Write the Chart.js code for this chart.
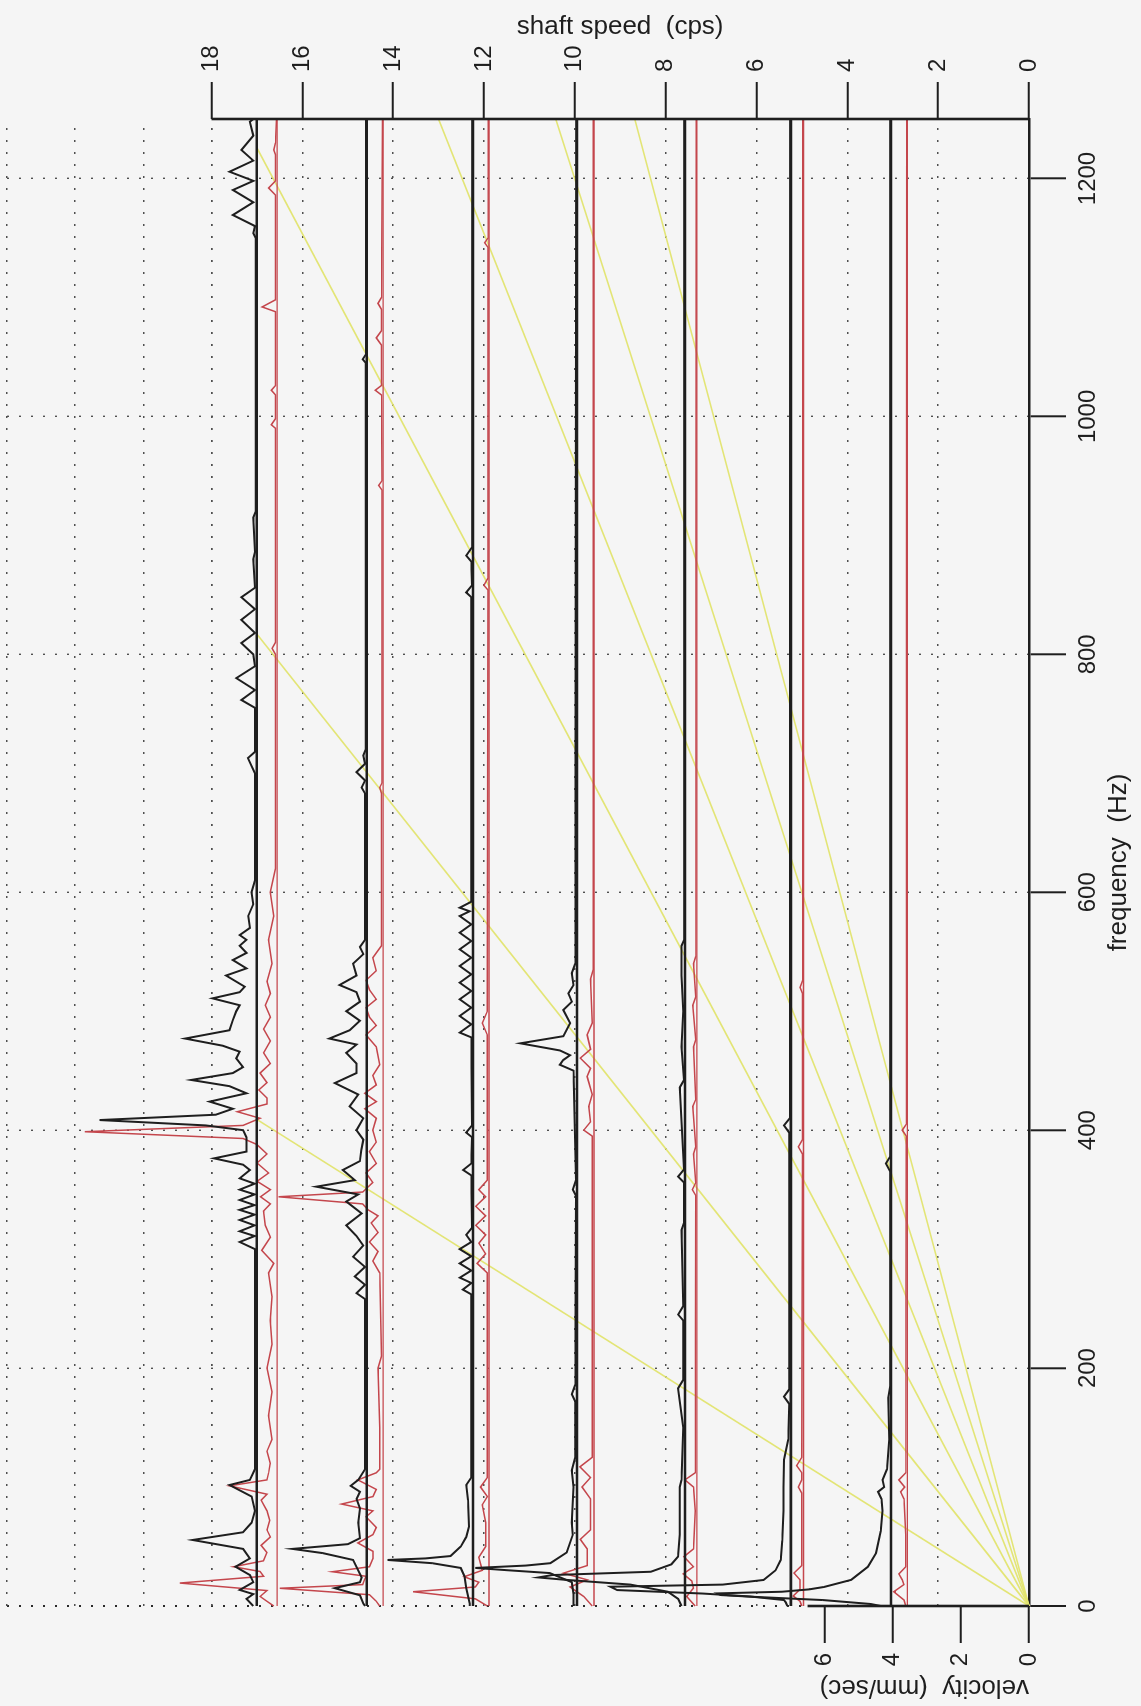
<!DOCTYPE html>
<html><head><meta charset="utf-8">
<script src="https://cdn.jsdelivr.net/npm/chart.js@4.4.1/dist/chart.umd.min.js"></script>
<style>
html,body{margin:0;padding:0;background:#f5f5f5;overflow:hidden;width:1141px;height:1706px;}
#wrap{position:absolute;left:0;top:0;width:1706px;height:1141px;transform-origin:0 0;transform:translate(0,1706px) rotate(-90deg);}
</style></head><body>
<div id="wrap"><canvas id="c" width="1706" height="1141"></canvas></div>
<script>
// ---------------- data ----------------
const freqTicks = [0,200,400,600,800,1000,1200];
const shaftTicks = [0,2,4,6,8,10,12,14,16,18];
const velTicks = [0,2,4,6,8,10,12,14,16,18,20,22,24,26,28,30];
const velLabelled = [0,2,4,6];
// baseline offsets (mm/sec) of each spectrum
const blackOffsets = [4.05, 6.99, 10.10, 13.27, 16.32, 19.44, 22.67];
const redOffsets   = [3.57, 6.62, 9.75, 12.77, 15.85, 18.96, 22.07];
// order lines: end points [frequency Hz, shaft speed cps]
const orderLineEnds = [[409,17.0],[817,17.0],[1226,17.0],[1250,13.0],[1250,10.42],[1250,8.68]];
// spectra: [frequency Hz, velocity amplitude mm/sec]
const blackSpec1 = [[0,0.3],[1.7,0.6],[5,2.0],[7.8,4.1],[9.2,5.0],[10.6,5.1],[12,3.2],[14,2.4],[16,1.97],[22,1.17],[33,0.68],[44.5,0.44],[63,0.3],[80,0.25],[90,0.28],[96,0.38],[100,0.2],[106,0.25],[115,0.12],[140,0.05],[175,0.08],[185,0.02],[365,0.02],[372,0.15],[378,0.02],[1250,0.02]];
const blackSpec2 = [[0,0.1],[3,0.15],[5,0.2],[8,1.2],[10.5,2.6],[13.4,5.1],[16.2,5.3],[18,2.0],[21.9,0.8],[30,0.45],[38.7,0.3],[55,0.25],[80,0.22],[100,0.22],[123,0.2],[140,0.08],[170,0.05],[176,0.2],[182,0.05],[398,0.05],[404,0.2],[410,0.03],[1250,0.02]];
const blackSpec3 = [[0,0.1],[6,0.2],[12,0.5],[18,1.6],[22,3.5],[24,4.3],[26,3.9],[28.8,1.0],[35,0.4],[41.5,0.2],[60,0.15],[100,0.15],[106,0.1],[150,0.05],[183,0.2],[190,0.05],[240,0.05],[245,0.2],[252,0.05],[316,0.1],[322,0.03],[356,0.03],[361,0.2],[367,0.03],[436,0.15],[442,0.03],[470,0.1],[500,0.05],[530,0.1],[555,0.1],[560,0.02],[1250,0.02]];
const blackSpec4 = [[0,0.1],[10,0.1],[20,0.15],[27.7,0.8],[30,2.0],[32,2.98],[34,1.5],[36,0.78],[45,0.3],[60,0.12],[70,0.15],[100,0.1],[114,0.15],[125,0.05],[172,0.05],[178,0.15],[186,0.05],[345,0.03],[350,0.12],[358,0.03],[450,0.1],[455,0.5],[459,0.4],[463,0.2],[467,0.5],[473,1.66],[479,0.4],[490,0.2],[501,0.4],[508,0.15],[515,0.25],[522,0.1],[532,0.15],[540,0.05],[1250,0.02]];
const blackSpec5 = [[0,0.1],[2,0.1],[15,0.2],[25,0.25],[32,0.36],[36,1.2],[38.7,2.51],[40,1.4],[42,0.66],[50,0.36],[58,0.2],[66.7,0.12],[89,0.15],[101.7,0.2],[108,0.05],[262,0.05],[266,0.3],[271.5,0.05],[276,0.39],[282,0.05],[288,0.39],[294,0.05],[300,0.39],[306,0.05],[312,0.2],[318,0.03],[362,0.05],[366.5,0.29],[372,0.05],[394,0.03],[398,0.2],[404,0.03],[478,0.05],[482,0.39],[489,0.05],[496,0.39],[503,0.05],[510,0.39],[517,0.05],[524,0.39],[531,0.05],[538,0.39],[545,0.05],[552,0.39],[559,0.05],[566,0.39],[573,0.05],[580,0.39],[584,0.1],[587,0.39],[592,0.05],[848,0.05],[852,0.2],[858,0.03],[878,0.05],[883,0.2],[890,0.03],[1250,0.02]];
const blackSpec6 = [[0,0.05],[2,0.1],[9,0.2],[15,0.94],[20,0.2],[24,0.15],[38.7,0.4],[44.5,1.3],[48,2.18],[52,0.55],[57,0.2],[70,0.25],[82,0.2],[90,0.3],[96,0.2],[101,0.47],[106,0.25],[115,0.05],[258,0.05],[263,0.3],[270,0.05],[277,0.35],[285,0.05],[293.6,0.4],[303,0.1],[311,0.3],[320,0.6],[330,0.15],[340,0.6],[346,0.25],[352.5,1.48],[358,0.35],[366.5,0.7],[374,0.2],[383,0.16],[392,0.1],[400,0.3],[410,0.1],[420,0.5],[430,0.25],[439.6,0.94],[448,0.3],[456,0.3],[465,0.6],[472,0.3],[477,1.1],[484,0.5],[492,0.2],[500,0.6],[508,0.2],[516,0.3],[522,0.8],[530,0.3],[540,0.4],[548,0.1],[554,0.2],[560,0.05],[683,0.05],[688,0.15],[694,0.05],[701,0.3],[708,0.05],[715,0.1],[720,0.03],[1045,0.03],[1048,0.12],[1052,0.03],[1250,0.02]];
const blackSpec7 = [[0,0.1],[6,0.3],[10,0.1],[13.5,0.5],[20,0.1],[26,0.2],[33,0.62],[40,0.2],[48,0.4],[55.5,1.88],[62,0.4],[70,0.15],[80,0.05],[92,0.15],[101.7,0.8],[106,0.2],[115,0.05],[300,0.05],[306,0.5],[311,0.06],[315,0.5],[320,0.06],[324.5,0.5],[329,0.06],[333,0.5],[337,0.06],[341.3,0.5],[346,0.06],[350,0.5],[355,0.06],[359.5,0.5],[366.5,0.2],[371,0.4],[376.3,1.25],[382,0.3],[388,0.3],[394,0.3],[400,0.4],[404,1.5],[408.5,4.61],[413,1.2],[418,0.7],[424,1.38],[431,0.3],[437,0.8],[442.2,1.92],[448,0.7],[453,0.4],[460.4,0.6],[466,0.5],[471,1.0],[477,2.1],[484,0.8],[492.6,0.7],[500,0.6],[505,0.5],[510.8,1.3],[516,0.5],[520.6,0.35],[530,0.9],[536,0.3],[543,0.7],[549,0.3],[555,0.5],[560,0.3],[564,0.5],[570,0.2],[580,0.25],[590,0.1],[600,0.15],[610,0.05],[700,0.05],[706,0.15],[712.8,0.26],[718,0.05],[755,0.05],[761.6,0.45],[770,0.05],[780,0.6],[790,0.05],[800,0.1],[809.5,0.45],[818,0.05],[829,0.45],[838,0.05],[848,0.45],[856,0.05],[880,0.1],[886,0.05],[915,0.1],[920,0.03],[1150,0.03],[1154,0.1],[1160,0.05],[1169.3,0.7],[1180,0.1],[1190.3,0.7],[1198,0.1],[1205.7,0.8],[1215,0.1],[1224,0.45],[1236,0.1],[1247.7,0.2],[1250,0.1]];
const redSpec1 = [[0,0.05],[5,0.1],[12,0.4],[18,0.1],[22,0.15],[27,0.25],[33,0.05],[60,0.05],[90,0.1],[96,0.2],[100,0.08],[106,0.25],[112,0.05],[395,0.03],[400,0.15],[405,0.03],[1250,0.02]];
const redSpec2 = [[0,0.05],[4,0.1],[8.4,0.3],[14,0.1],[22,0.1],[27.7,0.28],[34,0.05],[95,0.05],[100,0.15],[106,0.05],[112,0.05],[118,0.2],[125,0.05],[380,0.03],[386,0.15],[392,0.03],[515,0.03],[520,0.1],[526,0.02],[1250,0.02]];
const redSpec3 = [[0,0.05],[8,0.3],[15,0.1],[21,0.15],[27,0.4],[33,0.1],[41.5,0.38],[48,0.1],[80,0.05],[100,0.1],[106,0.35],[112,0.05],[345,0.03],[350,0.13],[356,0.03],[380,0.1],[386,0.03],[420,0.12],[426,0.03],[470,0.1],[476,0.03],[505,0.12],[512,0.03],[540,0.1],[546,0.03],[1250,0.02]];
const redSpec4 = [[0,0.05],[8,0.3],[16,0.7],[22,0.2],[27.6,0.9],[34,0.2],[48,0.2],[56,0.4],[64,0.1],[90,0.1],[100,0.35],[108,0.1],[117,0.41],[125,0.05],[395,0.05],[400,0.3],[407,0.1],[420,0.15],[430,0.05],[445,0.2],[452,0.1],[460.6,0.4],[468,0.1],[480,0.2],[490,0.05],[527,0.1],[535,0.02],[1250,0.02]];
const redSpec5 = [[0,0.05],[6,0.4],[12,2.23],[16,0.4],[20,0.3],[24.6,0.73],[30,0.2],[41,0.3],[50,0.1],[70,0.1],[85,0.2],[92,0.05],[100,0.25],[108,0.05],[280,0.05],[288,0.35],[296,0.1],[305,0.3],[312,0.1],[320,0.39],[328,0.1],[336,0.39],[344,0.1],[350,0.3],[358,0.05],[480,0.05],[490,0.2],[500,0.05],[854,0.03],[858,0.15],[864,0.03],[1142,0.03],[1146,0.13],[1150,0.03],[1250,0.02]];
const redSpec6 = [[0,0.1],[4,0.2],[9.5,0.4],[14.9,3.03],[18,0.6],[21.9,0.55],[25,0.5],[28.8,1.49],[33,0.4],[40,0.3],[46,0.3],[53,0.74],[60,0.3],[66,0.2],[75,0.5],[80,0.3],[85.7,1.22],[92,0.3],[98,0.2],[106,0.74],[112,0.2],[115,0.1],[150,0.1],[200,0.15],[210,0.05],[280,0.1],[290,0.3],[298,0.15],[306,0.4],[314,0.15],[322,0.35],[328,0.15],[333,0.44],[338,0.6],[344,3.07],[348,0.6],[356,0.3],[364,0.5],[372,0.2],[382,0.4],[390,0.2],[400,0.3],[410,0.2],[418,0.54],[424,0.2],[431,0.54],[438,0.2],[446,0.3],[455,0.1],[470,0.2],[480,0.5],[488,0.2],[495,0.4],[503,0.5],[510,0.2],[518,0.4],[526,0.5],[534,0.2],[545,0.3],[555,0.05],[683,0.05],[688,0.1],[692,0.03],[938,0.03],[942,0.13],[946,0.03],[1018,0.05],[1022,0.23],[1026,0.05],[1060,0.05],[1066,0.2],[1072,0.05],[1090,0.05],[1095,0.15],[1100,0.05],[1250,0.02]];
const redSpec7 = [[0,0.1],[4,0.3],[8,0.5],[13,0.3],[19.3,2.86],[25,0.4],[29,0.5],[33,1.28],[38,0.4],[45,0.3],[51,0.47],[58,0.2],[64,0.3],[72,0.22],[80,0.3],[89,0.47],[94,0.3],[101,1.4],[106,0.3],[112,0.25],[120,0.2],[130,0.3],[140,0.15],[160,0.25],[180,0.15],[200,0.3],[220,0.15],[240,0.2],[260,0.15],[280,0.25],[288,0.1],[299,0.45],[310,0.2],[320,0.35],[332,0.4],[338,0.2],[344,0.49],[350,0.2],[357,0.59],[364,0.25],[372.4,0.59],[380,0.3],[388,0.6],[393,1.0],[398.7,5.65],[404,1.0],[410,0.5],[415.5,1.17],[422,0.3],[427,0.3],[433.8,0.54],[440,0.3],[448,0.5],[456,0.2],[465,0.4],[475,0.2],[485,0.4],[495,0.2],[505,0.35],[515,0.2],[525,0.3],[540,0.15],[560,0.25],[580,0.1],[600,0.2],[620,0.05],[800,0.05],[805,0.15],[810,0.05],[990,0.05],[993,0.17],[998,0.05],[1018,0.05],[1022,0.17],[1026,0.05],[1088,0.05],[1092,0.44],[1098,0.05],[1186,0.05],[1192,0.25],[1198,0.05],[1220,0.05],[1224,0.1],[1230,0.05],[1250,0.02]];
const blackSpectra = [blackSpec1,blackSpec2,blackSpec3,blackSpec4,blackSpec5,blackSpec6,blackSpec7];
const redSpectra = [redSpec1,redSpec2,redSpec3,redSpec4,redSpec5,redSpec6,redSpec7];
const FMAX = 1250;

// ---------------- styles ----------------
const INK = '#1e1e1e';
const RED = '#c4464c';
const YEL = 'rgba(226,228,110,0.95)';
const DOT = '#505050';
const FONT = "'Liberation Sans', Arial, Helvetica, sans-serif";

const datasets = [];
orderLineEnds.forEach(e => datasets.push({data:[{x:0,y:0},{x:e[0],y:e[1]}], yAxisID:'shaft', borderColor:YEL, borderWidth:1.6, order:6}));
redOffsets.forEach(o => datasets.push({data:[{x:0,y:o},{x:FMAX,y:o}], yAxisID:'vel', borderColor:RED, borderWidth:1.4, order:5}));
redSpectra.forEach((s,i) => datasets.push({data:s.map(p=>({x:p[0],y:redOffsets[i]+p[1]})), yAxisID:'vel', borderColor:RED, borderWidth:1.5, order:4}));
blackOffsets.forEach(o => datasets.push({data:[{x:0,y:o},{x:FMAX,y:o}], yAxisID:'vel', borderColor:INK, borderWidth:2.6, order:3}));
blackSpectra.forEach((s,i) => datasets.push({data:s.map(p=>({x:p[0],y:blackOffsets[i]+p[1]})), yAxisID:'vel', borderColor:INK, borderWidth:2, order:2}));
// axis segments: velocity scale bar and shaft speed axis line
datasets.push({data:[{x:0,y:0},{x:0,y:6.5}], yAxisID:'vel', borderColor:INK, borderWidth:2.6, order:1});
datasets.push({data:[{x:FMAX,y:0},{x:FMAX,y:18}], yAxisID:'shaft', borderColor:INK, borderWidth:2.6, order:1});
datasets.forEach(d => { d.pointRadius = 0; d.tension = 0; d.fill = false; d.clip = false; });

const shaftTitle = {
  id:'shaftTitle',
  afterDraw(chart){
    const s = chart.scales.shaft, ctx = chart.ctx;
    const yc = (s.getPixelForValue(0) + s.getPixelForValue(18)) / 2;
    ctx.save();
    ctx.translate(1679, yc);
    ctx.rotate(Math.PI/2);
    ctx.font = "26px " + FONT;
    ctx.fillStyle = INK;
    ctx.textAlign = 'center';
    ctx.textBaseline = 'middle';
    ctx.fillText('shaft speed  (cps)', 0, 0);
    ctx.restore();
  }
};

const noPadV = s => { s.paddingTop = 0; s.paddingBottom = 0; };
new Chart(document.getElementById('c'), {
  type:'line',
  data:{datasets},
  plugins:[shaftTitle],
  options:{
    responsive:false, animation:false, devicePixelRatio:1,
    layout:{padding:{top:7,left:0,right:0,bottom:0}},
    plugins:{legend:{display:false}, tooltip:{enabled:false}},
    events:[],
    scales:{
      x:{type:'linear', position:'bottom', min:0, max:FMAX,
        afterBuildTicks:s=>{ s.ticks = freqTicks.map(v=>({value:v})); },
        afterFit:s=>{ s.height = 112; s.paddingLeft = 0; s.paddingRight = 0; },
        grid:{color:c=> c.tick && c.tick.value===0 ? '#2a2a2a' : DOT, lineWidth:c=> c.tick && c.tick.value===0 ? 2 : 1.4,
              tickLength:37, tickColor:INK, tickWidth:2},
        border:{display:true, color:INK, width:2.6, dash:[2,10]},
        ticks:{color:INK, font:{family:FONT, size:24}, padding:8, maxRotation:0, minRotation:0, callback:v=>String(v)},
        title:{display:true, text:'frequency  (Hz)', color:INK, font:{family:FONT, size:26}, padding:{top:0,bottom:7}}
      },
      vel:{type:'linear', position:'left', min:0, max:30,
        afterBuildTicks:s=>{ s.ticks = velTicks.map(v=>({value:v})); },
        afterFit:s=>{ s.width = 100; noPadV(s); },
        grid:{color:c=> c.tick && c.tick.value>=24 ? DOT : 'rgba(0,0,0,0)', lineWidth:1.4,
              tickLength:37, tickColor:c=> c.tick && velLabelled.includes(c.tick.value) ? INK : 'rgba(0,0,0,0)', tickWidth:2},
        border:{display:false, dash:[2,10]},
        ticks:{color:INK, font:{family:FONT, size:24}, padding:10, callback:v=> velLabelled.includes(v) ? String(v) : ''},
        title:{display:true, text:'velocity  (mm/sec)', align:'start', color:INK, font:{family:FONT, size:26}, padding:{top:3,bottom:0}}
      },
      shaft:{type:'linear', position:'right', min:0, max:22.5,
        afterBuildTicks:s=>{ s.ticks = shaftTicks.map(v=>({value:v})); },
        afterFit:s=>{ s.width = 119; noPadV(s); },
        grid:{color:c=> c.tick && c.tick.value>0 ? DOT : 'rgba(0,0,0,0)', lineWidth:1.4,
              tickLength:37, tickColor:INK, tickWidth:2},
        border:{display:false, dash:[2,10]},
        ticks:{color:INK, font:{family:FONT, size:24}, padding:10, callback:v=>String(v)}
      }
    }
  }
});
</script>
</body></html>
